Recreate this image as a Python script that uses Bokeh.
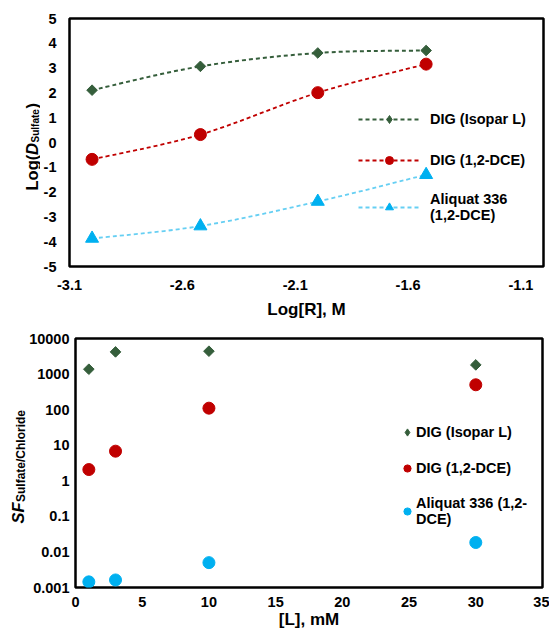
import math
from bokeh.plotting import figure
from bokeh.models import (FixedTicker, Range1d, Legend, LegendItem,
                          CustomJSTickFormatter, ColumnDataSource)
from bokeh.layouts import column, row
from bokeh.core.properties import value
from bokeh.embed import file_html
from bokeh.resources import INLINE

FONT = "Liberation Sans"
NAN = float("nan")

# ---------------- data (top chart) ----------------
log_R = [-3.0, -2.52, -2.0, -1.52]
logD_dig_isopar = [2.11, 3.07, 3.61, 3.71]
logD_dig_dce = [-0.68, 0.32, 2.01, 3.16]
logD_aliquat = [-3.87, -3.37, -2.38, -1.30]
top_xticks = [-3.1, -2.6, -2.1, -1.6, -1.1]
top_yticks = [-5, -4, -3, -2, -1, 0, 1, 2, 3, 4, 5]

# ---------------- data (bottom chart) ----------------
conc_mM = [1, 3, 10, 30]
sf_dig_isopar = [1370, 4200, 4400, 1810]
sf_dig_dce = [2.07, 6.8, 110, 500]
sf_aliquat = [0.00144, 0.00163, 0.0050, 0.0184]
bot_xticks = [0, 5, 10, 15, 20, 25, 30, 35]
bot_yticks = [0.001, 0.01, 0.1, 1, 10, 100, 1000, 10000]

labels = ["DIG (Isopar L)", "DIG (1,2-DCE)", "Aliquat 336\n(1,2-DCE)"]
labels_b = ["DIG (Isopar L)", "DIG (1,2-DCE)", "Aliquat 336 (1,2-\nDCE)"]

GREEN = "#355E3B"
RED = "#C00000"
CYAN = "#00B0F0"
CYAN_LINE = "#66CFF3"

W = 549
TOP_H, TOP_BT, TOP_BB = 323, 18, 57     # height, top border, bottom border
BOT_H, BOT_BT, BOT_BB = 310, 15, 46
LAB1_W = 40   # strip holding the rotated y title of the top chart
LAB2_W = 26   # strip holding the rotated y title of the bottom chart


def smooth(xs, ys):
    """Excel-like smoothed line: cubic Bezier segments between data points."""
    n = len(xs)
    d = {k: [] for k in ("x0", "y0", "x1", "y1", "cx0", "cy0", "cx1", "cy1")}
    for i in range(n - 1):
        a = i - 1 if i > 0 else i
        b = i + 2 if i + 2 < n else i + 1
        d["x0"].append(xs[i]); d["y0"].append(ys[i])
        d["x1"].append(xs[i + 1]); d["y1"].append(ys[i + 1])
        d["cx0"].append(xs[i] + (xs[i + 1] - xs[a]) / 6)
        d["cy0"].append(ys[i] + (ys[i + 1] - ys[a]) / 6)
        d["cx1"].append(xs[i + 1] - (xs[b] - xs[i]) / 6)
        d["cy1"].append(ys[i + 1] - (ys[b] - ys[i]) / 6)
    return ColumnDataSource(d)


def style(p):
    p.outline_line_color = "black"
    p.outline_line_width = 2.5
    p.grid.visible = False
    p.background_fill_color = "white"
    p.border_fill_color = "white"
    for ax in p.axis:
        ax.axis_line_color = None
        ax.major_tick_line_color = None
        ax.minor_tick_line_color = None
        ax.major_tick_in = 0
        ax.major_tick_out = 0
        ax.minor_tick_in = 0
        ax.minor_tick_out = 0
        ax.major_label_text_font = FONT
        ax.major_label_text_font_style = "bold"
        ax.major_label_text_font_size = "14.5px"
        ax.major_label_text_color = "black"
        ax.axis_label_text_font = FONT
        ax.axis_label_text_font_style = "bold"
        ax.axis_label_text_font_size = "17px"
        ax.axis_label_text_color = "black"


def label_fig(width, height, frame_top, frame_bottom, pieces):
    """Strip holding a rotated, mixed-style axis title.
    Its frame is aligned with the neighbouring chart's frame, so the y range
    is set to minus the page pixel rows of that frame."""
    f = figure(width=width, height=height, output_backend="svg",
               toolbar_location=None, x_range=Range1d(0, width),
               y_range=Range1d(-frame_bottom, -frame_top), x_axis_location=None,
               y_axis_location=None, min_border=0, title=None)
    f.outline_line_color = None
    f.grid.visible = False
    f.border_fill_color = "white"
    f.background_fill_color = "white"
    for txt, px, py, size, fstyle in pieces:
        f.text(x=[px], y=[-py], text=[txt], angle=math.pi / 2,
               text_align="left", text_baseline="alphabetic",
               text_font=value(FONT), text_font_style=fstyle,
               text_font_size=size, text_color="black")
    return f


# ================= top chart =================
p1 = figure(width=W - LAB1_W, height=TOP_H, output_backend="svg",
            toolbar_location=None,
            x_range=Range1d(-3.1, -1.0), y_range=Range1d(-5, 5),
            min_border_top=TOP_BT, min_border_bottom=TOP_BB,
            min_border_left=69 - LAB1_W, min_border_right=6)
style(p1)
p1.xaxis.ticker = FixedTicker(ticks=top_xticks)
p1.yaxis.ticker = FixedTicker(ticks=top_yticks)
p1.xaxis.formatter = CustomJSTickFormatter(code="return tick.toFixed(1)")
p1.yaxis.formatter = CustomJSTickFormatter(code="return tick.toFixed(0)")
p1.xaxis.axis_label = "Log[R], M"
p1.xaxis.major_label_standoff = 13
p1.xaxis.axis_label_standoff = 7
p1.yaxis.major_label_standoff = 13

series_top = [
    (logD_dig_isopar, GREEN, GREEN, 2.0),
    (logD_dig_dce, RED, RED, 1.8),
    (logD_aliquat, CYAN, CYAN_LINE, 1.8),
]
markers_top = [("square", 7.5, math.pi / 4, "diamond"),
               ("circle", 12, 0, None),
               ("triangle", 13, 0, None)]
items = []
for (ys, mcol, lcol, lw), (mk, sz, ang, legmk), lab in zip(series_top, markers_top, labels):
    p1.bezier(x0="x0", y0="y0", x1="x1", y1="y1", cx0="cx0", cy0="cy0",
              cx1="cx1", cy1="cy1", source=smooth(log_R, ys),
              line_color=lcol, line_width=lw, line_dash="4 3")
    sc = p1.scatter(x=log_R, y=ys, marker=mk, size=sz, angle=ang,
                    fill_color=mcol, line_color=mcol)
    # legend proxies (not drawn in the plot area)
    line_proxy = p1.line(x=[NAN], y=[NAN], line_color=lcol, line_width=lw,
                         line_dash="4 3")
    rends = [line_proxy]
    if legmk:
        rends.append(p1.scatter(x=[NAN], y=[NAN], marker=legmk,
                                fill_color=mcol, line_color=mcol))
    else:
        rends.append(sc)
    items.append(LegendItem(label=lab, renderers=rends))

leg1 = Legend(items=items, location=(289, 43), glyph_width=62, glyph_height=20,
              label_height=20, label_standoff=10, spacing=21, padding=0, margin=0,
              border_line_color=None, background_fill_alpha=0,
              label_text_font=FONT, label_text_font_style="bold",
              label_text_font_size="14.5px", label_text_color="black")
p1.add_layout(leg1)

lab1 = label_fig(LAB1_W, TOP_H, TOP_BT, TOP_H - TOP_BB, [
    ("Log(", 31, 190, "16.5px", "bold"),
    ("D", 31, 154.5, "16.5px", "bold italic"),
    ("Sulfate", 35, 142, "10px", "bold"),
    (")", 31, 108, "16.5px", "bold"),
])

# ================= bottom chart =================
p2 = figure(width=W - LAB2_W, height=BOT_H, output_backend="svg",
            toolbar_location=None,
            x_range=Range1d(0, 35), y_range=Range1d(0.001, 10000),
            y_axis_type="log",
            min_border_top=BOT_BT, min_border_bottom=BOT_BB,
            min_border_left=75 - LAB2_W, min_border_right=7)
style(p2)
p2.xaxis.ticker = FixedTicker(ticks=bot_xticks)
p2.yaxis.ticker = FixedTicker(ticks=bot_yticks)
p2.yaxis.formatter = CustomJSTickFormatter(
    code="return Number(tick.toPrecision(1)).toString()")
p2.xaxis.axis_label = "[L], mM"
p2.xaxis.major_label_standoff = 9
p2.xaxis.axis_label_standoff = 0
p2.yaxis.major_label_standoff = 6

series_bot = [
    (sf_dig_isopar, GREEN, "square", 7.5, math.pi / 4, "diamond"),
    (sf_dig_dce, RED, "circle", 12, 0, None),
    (sf_aliquat, CYAN, "circle", 12, 0, None),
]
items2 = []
for (ys, col, mk, sz, ang, legmk), lab in zip(series_bot, labels_b):
    sc = p2.scatter(x=conc_mM, y=ys, marker=mk, size=sz, angle=ang,
                    fill_color=col, line_color=col)
    if legmk:
        sc = p2.scatter(x=[NAN], y=[NAN], marker=legmk, fill_color=col,
                        line_color=col)
    items2.append(LegendItem(label=lab, renderers=[sc]))

leg2 = Legend(items=items2, location=(323, 60), glyph_width=18, glyph_height=18,
              label_height=18, label_standoff=0, spacing=18, padding=0, margin=0,
              border_line_color=None, background_fill_alpha=0,
              label_text_font=FONT, label_text_font_style="bold",
              label_text_font_size="14.5px", label_text_color="black")
p2.add_layout(leg2)

lab2 = label_fig(LAB2_W, BOT_H, TOP_H + BOT_BT, TOP_H + BOT_H - BOT_BB, [
    ("SF", 17.5, 523, "16.5px", "bold italic"),
    ("Sulfate/Chloride", 20.5, 501.5, "12px", "bold"),
])

layout = column(row(lab1, p1, spacing=0), row(lab2, p2, spacing=0), spacing=0)
open("out.html", "w").write(file_html(layout, INLINE))
